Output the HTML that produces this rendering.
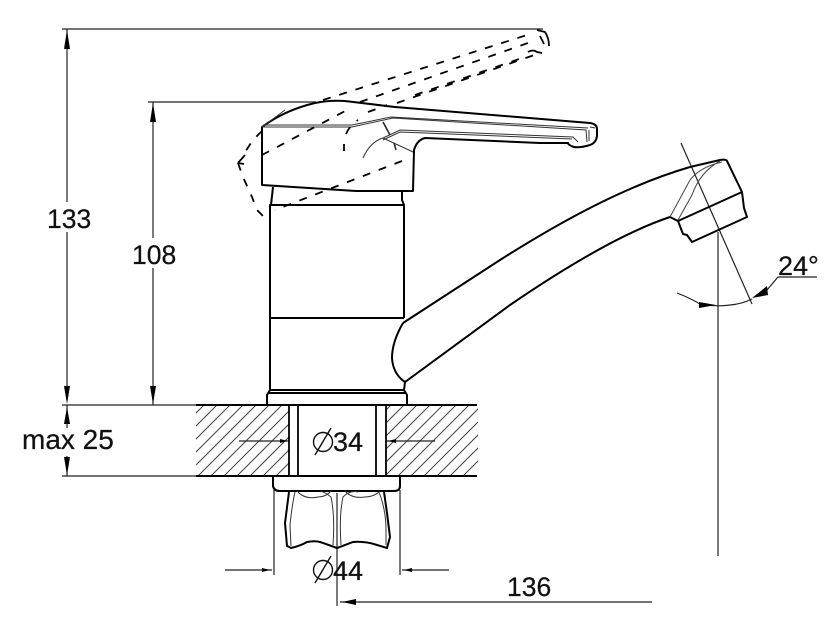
<!DOCTYPE html>
<html><head><meta charset="utf-8"><style>
html,body{margin:0;padding:0;background:#fff}
svg{display:block}
text{font-family:"Liberation Sans",sans-serif;font-size:26.5px;fill:#111;stroke:#111;stroke-width:.25}
</style></head><body>
<svg width="840" height="631" viewBox="0 0 840 631" xmlns="http://www.w3.org/2000/svg">
<defs>
<clipPath id="h1"><rect x="196" y="405" width="93" height="71"/></clipPath>
<clipPath id="h2"><rect x="386" y="405" width="92" height="71"/></clipPath>
</defs>
<!-- hatching -->
<g stroke="#444" stroke-width="1" clip-path="url(#h1)">
<path d="M120 476l71-71M133 476l71-71M146 476l71-71M159 476l71-71M172 476l71-71M185 476l71-71M198 476l71-71M211 476l71-71M224 476l71-71M237 476l71-71M250 476l71-71M263 476l71-71M276 476l71-71"/>
</g>
<g stroke="#444" stroke-width="1" clip-path="url(#h2)">
<path d="M320 476l71-71M333 476l71-71M346 476l71-71M359 476l71-71M372 476l71-71M385 476l71-71M398 476l71-71M411 476l71-71M424 476l71-71M437 476l71-71M450 476l71-71M463 476l71-71"/>
</g>
<!-- thin dimension lines -->
<g fill="none" stroke="#222" stroke-width="1.2">
<path d="M62 29H543M148 102H316M62 405H196M62 476H196"/>
<path d="M67 29V202M67 232V400M67 405V428M67 456V476"/>
<path d="M153 102V238M153 268V405"/>
<path d="M274 490V575M400 490V575M225 570H272M402 570H449"/>
<path d="M337 493V606M340 602H652"/>
<path d="M239 441H289M386 441H435"/>
<path d="M718 232V556M681 143L752 304"/>
<path d="M677 293Q690 298 700 304Q715 307 730 305Q742 304 752 299M767 290L778 277H817"/>
</g>
<!-- arrowheads -->
<g fill="#000">
<path d="M67 30L70 49H64ZM153 103L156 122H150ZM67 404L64 386H70ZM153 404L150 386H156ZM67 407L70 424H64ZM67 475L64 457H70Z"/>
<path d="M342 602L356 599V605ZM270 570L262 568V572ZM404 570L412 568V572ZM288 441L280 439V443ZM388 441L396 439V443Z"/>
<path d="M716 305L699 302V308ZM752 298L767 286L768 295Z"/>
</g>
<!-- counter top -->
<g fill="none" stroke="#000" stroke-width="2">
<path d="M196 405H477M196 476H477"/>
<path d="M289 405V476M298 405V476M376 405V476M386 405V476" stroke-width="1.8"/>
</g>
<!-- body -->
<g fill="none" stroke="#000" stroke-width="2" stroke-linejoin="round">
<path d="M270 390V205H404V318M270 318H404"/>
<path d="M404 205L402 200V191M271 205L273 187"/>
<path d="M267 404V395L270 390H404L407 395V404M268 393H406"/>
<path d="M403 323Q392 342 392 358Q393 374 405 382L404 390"/>
<path d="M403 323L500 260C560 222 625 186 690 167L720 160Q726 159 727 161L742 192L744 208L747 217L692 242L687 235L683 234L678 221L670 217C625 232 570 264 510 305L405 382"/>
<path d="M678 221L742 192" />
</g>
<path d="M670 217L690 180Q700 167 722 162M678 220L692 195Q700 172 720 161" fill="none" stroke="#444" stroke-width="1"/>
<!-- handle -->
<path d="M262 127Q285 110 315 103Q330 100 345 101L395 107L590 123Q597 124 597 129V136Q596 143 590 145Q580 148 574 147Q568 145 568 143L540 143L425 138Q417 140 414 150L413 191H356L262 185Z" fill="#fff" stroke="#000" stroke-width="2" stroke-linejoin="round"/>
<g fill="none" stroke="#333" stroke-width="1">
<path d="M263 127H352L393 118L586 130L587 142M263 125H352L391 117L588 128M262 127L285 110"/>
<path d="M363 158Q370 142 383 138L400 130L573 137L578 142M383 140L400 132L572 139"/>
<path d="M383 138L413 152M589 130V141M595 128L590 127"/>
</g>
<path d="M383 122L390 135M394 143L396 150" stroke="#222" stroke-width="1.5" fill="none"/>
<!-- dashed handle -->
<g fill="none" stroke="#000" stroke-width="1.8" stroke-dasharray="8 9">
<path d="M323 100L527 35"/>
<path d="M360 102L528 43"/>
<path d="M397 103L540 53"/>
<path d="M415 95L522 58"/>
<path d="M262 155L347 110M368 112L387 105"/>
<path d="M402 161L275 210"/>
<path d="M262 131L253 140L243 155M238 163L243 177L252 197L257 210L263 216H267"/>
<path d="M346 134Q350 125 358 120"/>
</g>
<g fill="none" stroke="#000" stroke-width="1.8">
<path d="M344 144V151M537 30L545 32Q549 38 549 46M540 36L544 44M528 52Q533 49 537 52L542 53M238 163L245 155M238 163L244 164"/>
</g>
<!-- flange & nut -->
<g fill="none" stroke="#000" stroke-width="2">
<path d="M273 477V486Q274 491 280 491H394Q400 491 400 486V477"/>
<path d="M289 492L285 523L287 546L291 548Q300 546 307 542Q316 540 323 543L337 548L353 542Q365 541 377 545L387 548L390 537L387 513L384 492"/>
</g>
<g fill="none" stroke="#333" stroke-width="1">
<path d="M295 492Q292 505 290 525L291 546M333 545Q335 515 331 497Q322 490 320 492M341 545Q339 515 343 497Q350 490 358 492M379 492Q386 510 386 530V545"/>
<path d="M297 491Q305 500 318 497Q326 497 331 491M345 491Q352 499 365 497Q374 497 380 491"/>
</g>
<!-- diameter symbols -->
<g fill="none" stroke="#111" stroke-width="1.4">
<circle cx="323" cy="442" r="9.5"/><path d="M315 455L331 428"/>
<circle cx="323" cy="570" r="9.5"/><path d="M315 583L331 556"/>
</g>
<!-- labels -->
<text x="47" y="228">133</text>
<text x="132" y="264">108</text>
<text x="22" y="449" xml:space="preserve" style="font-size:28px">max 25</text>
<text x="333" y="451" style="font-size:27px">34</text>
<text x="333" y="580" style="font-size:27px">44</text>
<text x="507" y="596">136</text>
<text x="778" y="275" style="font-size:27px">24°</text>
</svg>
</body></html>
